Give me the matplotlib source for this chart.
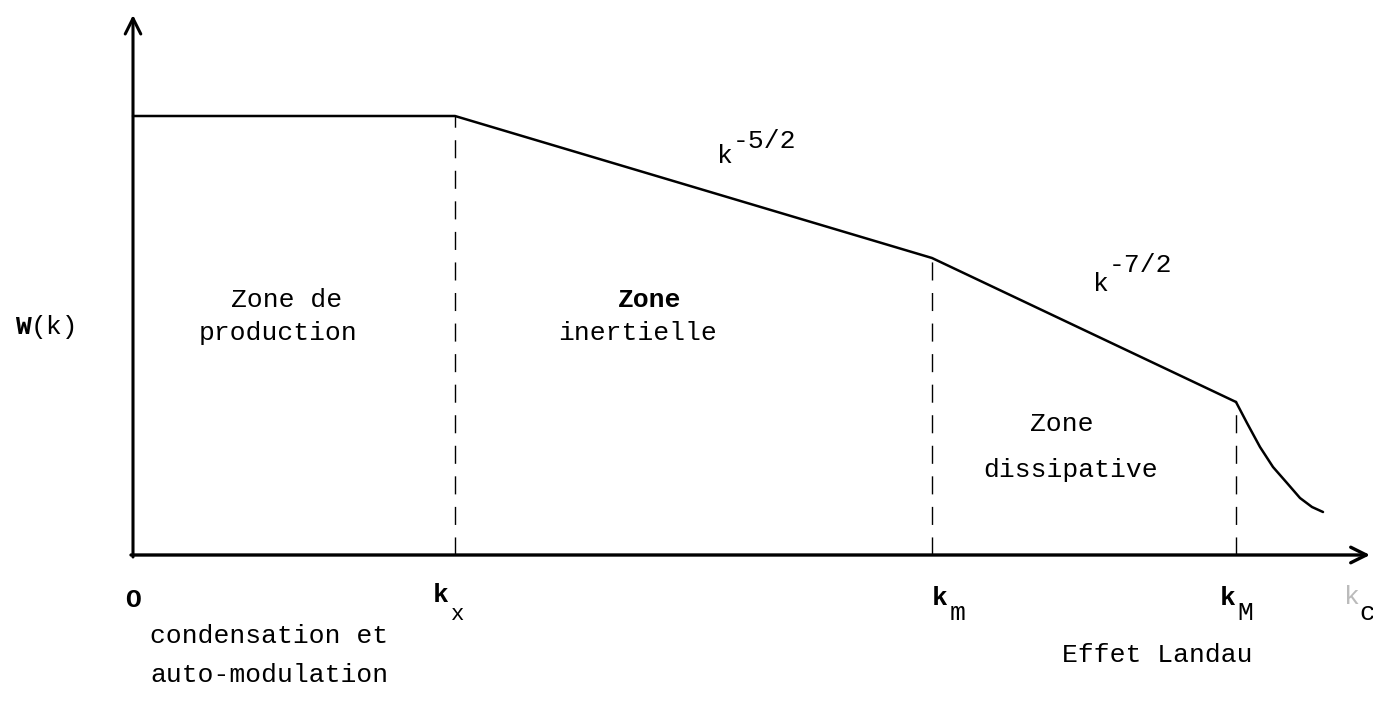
import matplotlib
matplotlib.use("Agg")
import matplotlib.pyplot as plt

# ---- data (schematic spectrum W(k)) ----
k_break = [0.0, 3.22, 7.99, 11.03]          # 0, k_*, k_m, k_M
W_break = [4.39, 4.39, 2.97, 1.53]
k_tail = [11.03, 11.14, 11.27, 11.40, 11.54, 11.67, 11.79, 11.90]  # Landau damping tail
W_tail = [1.53, 1.32, 1.08, 0.88, 0.72, 0.57, 0.48, 0.43]
dashed_k = [3.22, 7.99, 11.03]
dashed_W = [4.39, 2.97, 1.53]

MONO = "Liberation Mono"
FS = 19

fig = plt.figure(figsize=(13.73, 7.18), dpi=100)
ax = fig.add_axes([0, 0, 1, 1])
ax.set_xlim(-1.33, 12.40)
ax.set_ylim(-1.63, 5.55)
ax.axis("off")

# axes with arrows
ax.annotate("", xy=(12.37, 0), xytext=(-0.02, 0),
            arrowprops=dict(arrowstyle="->", lw=2.4, color="black", mutation_scale=28,
                            shrinkA=0, shrinkB=0))
ax.annotate("", xy=(0, 5.40), xytext=(0, -0.02),
            arrowprops=dict(arrowstyle="->", lw=2.2, color="black", mutation_scale=28,
                            shrinkA=0, shrinkB=0))

# spectrum
ax.plot(k_break, W_break, color="black", lw=1.8, solid_capstyle="round",
        solid_joinstyle="round")
ax.plot(k_tail, W_tail, color="black", lw=1.8, solid_capstyle="round",
        solid_joinstyle="round")

# dashed separators
for kx, wy in zip(dashed_k, dashed_W):
    ax.plot([kx, kx], [0, wy], color="black", lw=1.0, linestyle=(0, (13, 9)))

# y label
ax.text(-1.18, 2.28, "W", fontfamily=MONO, fontsize=FS, fontweight="bold", ha="left", va="center")
ax.text(-1.02, 2.28, "(k)", fontfamily=MONO, fontsize=FS, ha="left", va="center")

# zone labels
ax.text(1.54, 2.55, "Zone de", fontfamily=MONO, fontsize=FS, ha="center", va="center")
ax.text(1.45, 2.22, "production", fontfamily=MONO, fontsize=FS, ha="center", va="center")
ax.text(5.17, 2.55, "Zone", fontfamily=MONO, fontsize=FS, fontweight="bold", ha="center", va="center")
ax.text(5.05, 2.22, "inertielle", fontfamily=MONO, fontsize=FS, ha="center", va="center")
ax.text(9.29, 1.31, "Zone", fontfamily=MONO, fontsize=FS, ha="center", va="center")
ax.text(9.38, 0.85, "dissipative", fontfamily=MONO, fontsize=FS, ha="center", va="center")

# power laws
ax.text(5.92, 3.99, "k", fontfamily=MONO, fontsize=FS, ha="center", va="center")
ax.text(6.00, 4.14, "-5/2", fontfamily=MONO, fontsize=19, ha="left", va="center")
ax.text(9.68, 2.71, "k", fontfamily=MONO, fontsize=FS, ha="center", va="center")
ax.text(9.76, 2.90, "-7/2", fontfamily=MONO, fontsize=19, ha="left", va="center")

# x labels
ax.text(0.0, -0.45, "O", fontfamily=MONO, fontsize=FS, fontweight="bold", ha="center", va="center")
ax.text(3.08, -0.40, "k", fontfamily=MONO, fontsize=FS, fontweight="bold", ha="center", va="center")
ax.text(3.25, -0.60, "x", fontfamily=MONO, fontsize=16, ha="center", va="center")
ax.text(8.07, -0.43, "k", fontfamily=MONO, fontsize=FS, fontweight="bold", ha="center", va="center")
ax.text(8.25, -0.58, "m", fontfamily=MONO, fontsize=FS, ha="center", va="center")
ax.text(10.95, -0.43, "k", fontfamily=MONO, fontsize=FS, fontweight="bold", ha="center", va="center")
ax.text(11.12, -0.58, "M", fontfamily=MONO, fontsize=FS, ha="center", va="center")
ax.text(12.19, -0.42, "k", fontfamily=MONO, fontsize=FS, color="#bbbbbb", ha="center", va="center")
ax.text(12.34, -0.58, "c", fontfamily=MONO, fontsize=FS, ha="center", va="center")

# bottom annotations
ax.text(0.17, -0.81, "condensation et", fontfamily=MONO, fontsize=FS, ha="left", va="center")
ax.text(0.17, -1.20, "auto-modulation", fontfamily=MONO, fontsize=FS, ha="left", va="center")
ax.text(9.29, -1.00, "Effet Landau", fontfamily=MONO, fontsize=FS, ha="left", va="center")

fig.savefig("out.png", dpi=100)
